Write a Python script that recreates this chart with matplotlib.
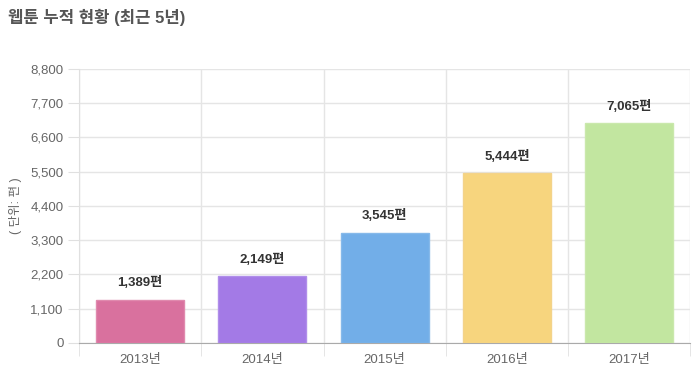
import matplotlib.pyplot as plt

plt.rcParams['font.family'] = ['Liberation Sans', 'Noto Sans CJK KR', 'DejaVu Sans']

years = ['2013년', '2014년', '2015년', '2016년', '2017년']
counts = [1389, 2149, 3545, 5444, 7065]
colors = ['#d9719e', '#a37ae6', '#72aee8', '#f7d57e', '#c2e6a0']
edges = ['#e08aae', '#b08eea', '#86b9ea', '#f3d38a', '#cae8ac']
yticks = [0, 1100, 2200, 3300, 4400, 5500, 6600, 7700, 8800]

fig = plt.figure(figsize=(7, 3.72), dpi=100)
ax = fig.add_axes([0.113, 0.078, 0.873, 0.737])

x = range(len(years))
ax.bar(x, counts, width=0.72, color=colors, edgecolor=edges, linewidth=1, zorder=3)
for i, v in enumerate(counts):
    ax.text(i, v + 330, f'{v:,}편', ha='center', va='bottom', fontsize=9.5,
            fontweight='bold', color='#333333')

ax.set_xlim(-0.5, len(years) - 0.5)
ax.set_ylim(0, 8800)
ax.set_yticks(yticks)
ax.set_yticklabels([f'{t:,}' for t in yticks])
ax.set_xticks(list(x))
ax.set_xticklabels(years)
ax.set_xticks([i + 0.5 for i in range(-1, len(years))], minor=True)

ax.grid(axis='y', color='#e5e5e5', linewidth=1, zorder=0)
ax.grid(axis='x', which='minor', color='#e5e5e5', linewidth=1, zorder=0)
ax.tick_params(axis='x', which='major', length=0, pad=8, labelsize=9.5, labelcolor='#666666')
ax.tick_params(axis='x', which='minor', length=9, color='#e0e0e0')
ax.tick_params(axis='y', length=8, color='#e0e0e0', labelsize=9.5, labelcolor='#666666', pad=3)

for s in ['top', 'right']:
    ax.spines[s].set_visible(False)
ax.spines['left'].set_color('#e0e0e0')
ax.spines['bottom'].set_color('#aaaaaa')

ax.set_ylabel('( 단위: 편 )', fontsize=9, color='#666666', labelpad=6)

fig.text(0.012, 0.952, '웹툰 누적 현황 (최근 5년)', fontsize=12, fontweight='bold',
         color='#555555', ha='left', va='center')

fig.savefig('out.png', dpi=100)
